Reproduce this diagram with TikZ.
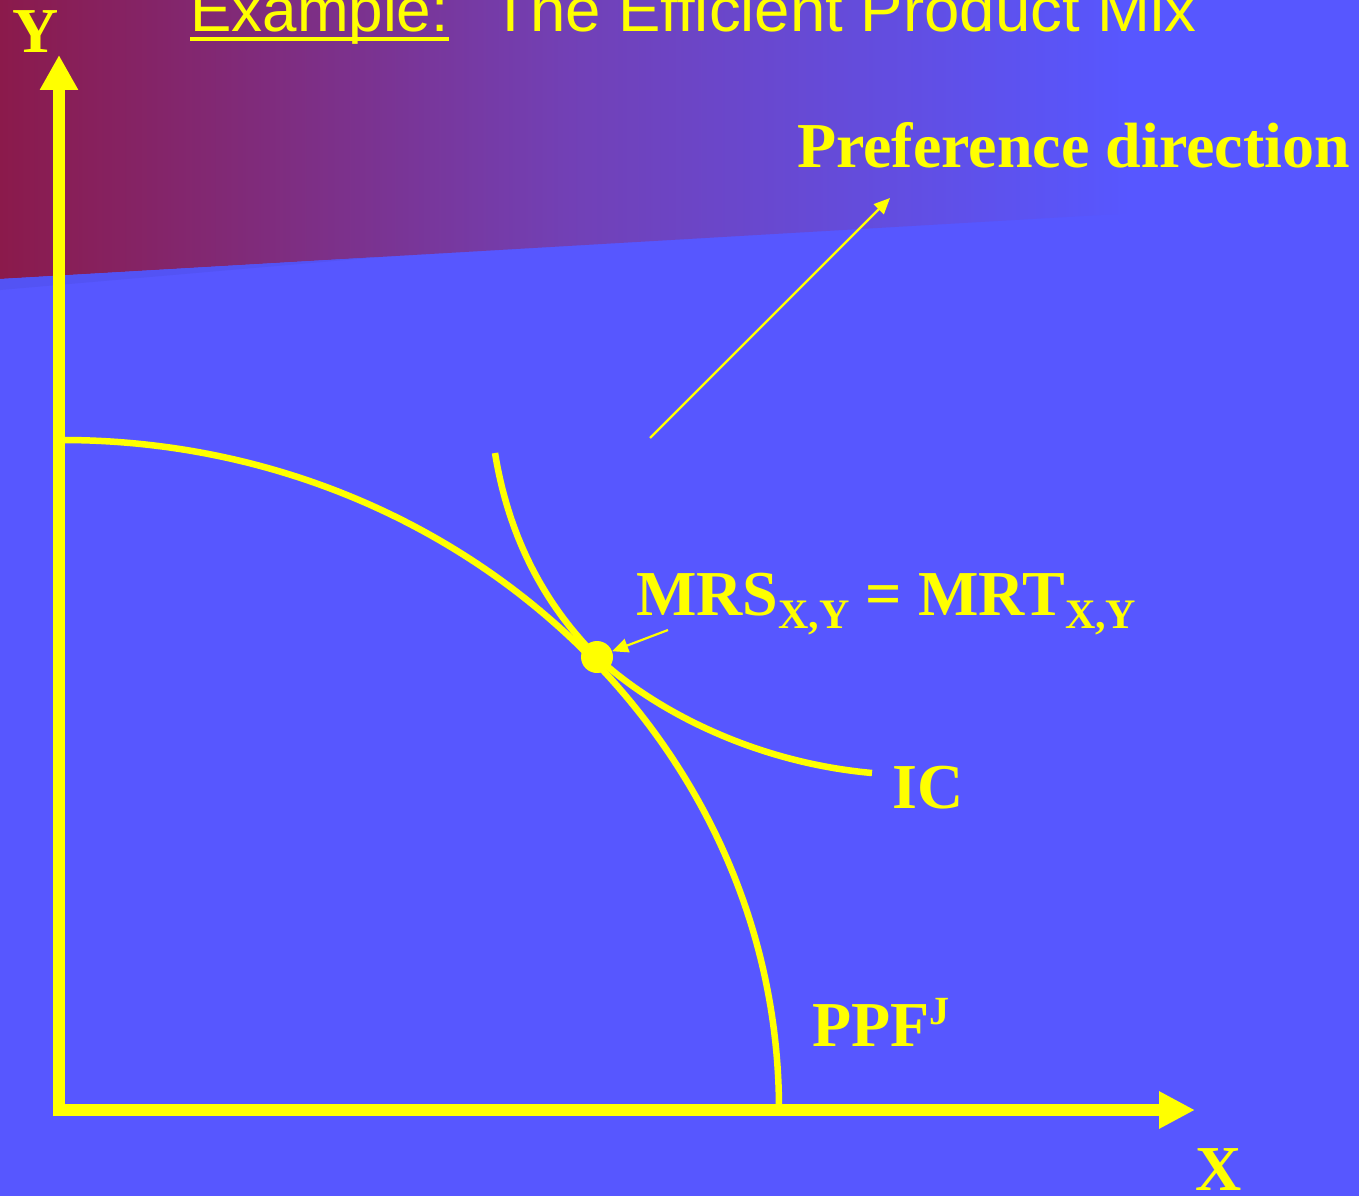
\documentclass[tikz,border=0pt]{standalone}
\usepackage{fontspec}
\setmainfont{Liberation Serif}
\newfontfamily\titlefont{Liberation Sans}
\usetikzlibrary{arrows.meta}
\definecolor{bgblue}{HTML}{5757FF}
\definecolor{bandblue}{HTML}{5353F4}
\definecolor{ylw}{HTML}{FFFF00}
\definecolor{dred}{HTML}{8B1A4B}
\definecolor{midpurple}{HTML}{7240B5}
\begin{document}
\begin{tikzpicture}[x=1pt,y=-1pt,
  lbl/.style={text=ylw, font=\bfseries\fontsize{64}{70}\selectfont, inner sep=0pt, anchor=base west},
  titletext/.style={text=ylw, font=\titlefont\fontsize{62}{70}\selectfont, inner sep=0pt, anchor=base west},
  curve/.style={draw=ylw, line width=6.5pt},
  axis/.style={draw=ylw, line width=12pt, line join=miter,
    {Triangle[length=35pt,width=36pt]}-{Triangle[length=36pt,width=35pt]}},
  pointer/.style={draw=ylw, line width=2.2pt, -{Triangle[length=16pt,width=14pt]}},
]
\useasboundingbox (0,0) rectangle (1359,1196);
\clip (0,0) rectangle (1359,1196);
\fill[bgblue] (0,0) rectangle (1359,1196);
% gradient header
\begin{scope}
  \clip (0,0) -- (1359,0) -- (1359,200) -- (0,279) -- cycle;
  \shade[left color=dred, right color=bgblue, middle color=midpurple] (0,0) rectangle (1130,300);
  \fill[bgblue] (1130,0) rectangle (1359,300);
\end{scope}
\fill[bandblue] (0,279) -- (380,257) -- (0,290) -- cycle;

% title
\node[titletext] (ex) at (190,32) {Example:};
\draw[ylw, line width=4pt] ([yshift=-7pt]ex.base west) -- ([yshift=-7pt]ex.base east);
\node[titletext, xscale=1.025] (ttl) at (491,32) {The Efficient Product Mix};

% axes
\coordinate (ytip) at (59,55);
\coordinate (origin) at (59,1110);
\coordinate (xtip) at (1195,1110);
\draw[axis] (ytip) -- (origin) -- (xtip);
\node[lbl] (ylab) at (12,53) {Y};
\node[lbl] (xlab) at (1195,1190) {X};

% PPF
\coordinate (ppftop) at (62,440);
\draw[curve] (ppftop) arc[start angle=-90, end angle=0, x radius=717, y radius=670];
\node[lbl] (ppf) at (812,1046) {PPF\raisebox{22pt}{\fontsize{40}{40}\selectfont J}};

% tangency point
\node[circle, fill=ylw, minimum size=32pt, inner sep=0pt] (E) at (597,657) {};

% IC
\coordinate (icstart) at (495,453);
\coordinate (icend) at (872,773);
\draw[curve] (icstart) .. controls (510,545) and (550,610) .. (E.center)
  .. controls (650,707) and (750,762) .. (icend);
\node[lbl] (ic) at (892,808) {IC};

% MRS label and pointer
\node[lbl] (mrs) at (636,615) {MRS\raisebox{-13pt}{\fontsize{42}{42}\selectfont X,Y} = MRT\raisebox{-13pt}{\fontsize{42}{42}\selectfont X,Y}};
\coordinate (mrstail) at (668,630);
\draw[pointer] (mrstail) -- (E);

% preference direction
\node[lbl] (pref) at (797,167) {Preference direction};
\coordinate (preftail) at (650,438);
\coordinate (prefhead) at (890,198);
\draw[pointer] (preftail) -- (prefhead);
\end{tikzpicture}
\end{document}
